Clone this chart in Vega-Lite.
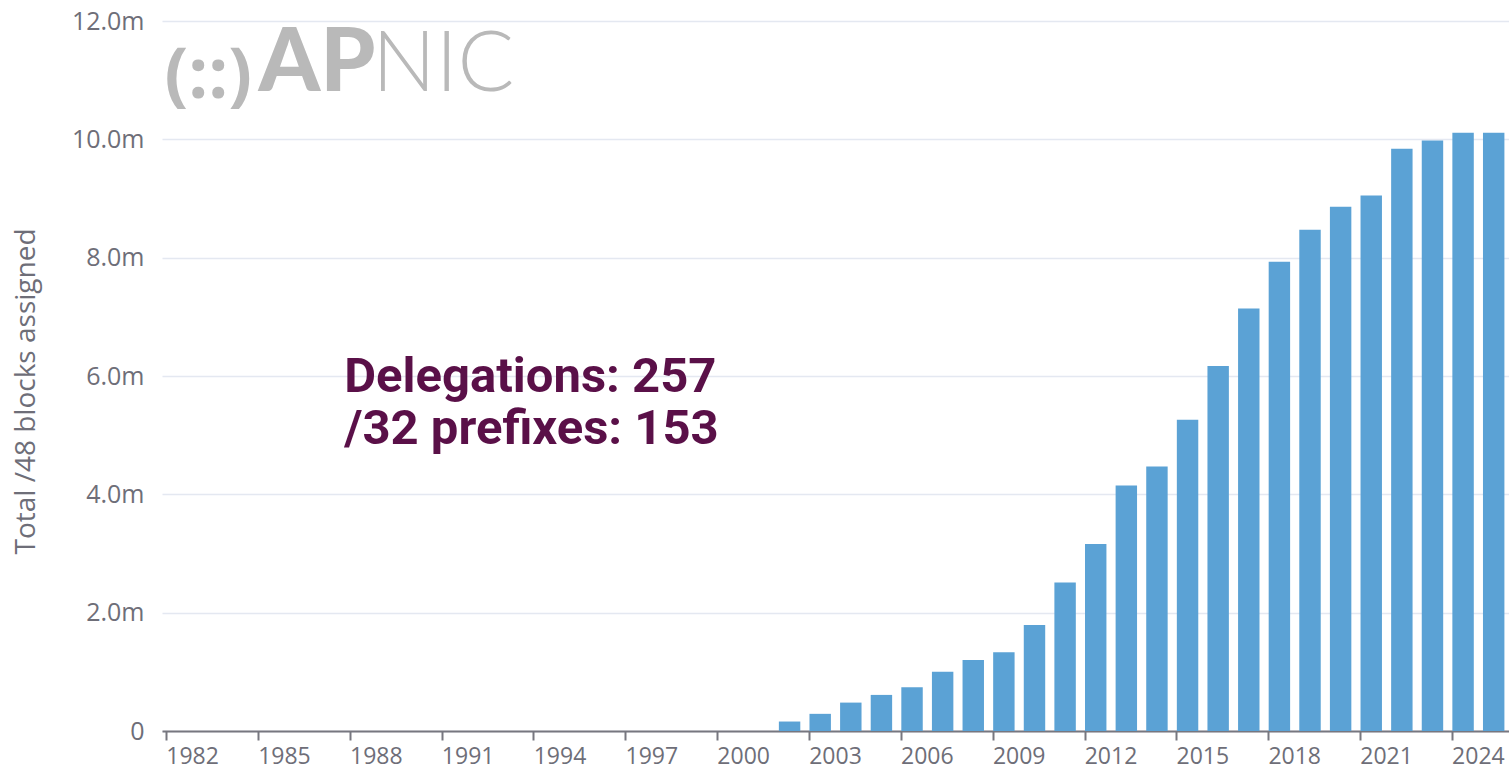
{
  "$schema": "https://vega.github.io/schema/vega-lite/v6.json",
  "autosize": "none",
  "padding": {"left": 162, "top": 21, "right": 0, "bottom": 41},
  "width": 1347,
  "height": 710,
  "background": "white",
  "config": {
    "view": {"stroke": null},
    "font": "Open Sans"
  },
  "layer": [
    {
      "data": {
        "values": [
          {"year": 2002, "value": 160000},
          {"year": 2003, "value": 290000},
          {"year": 2004, "value": 480000},
          {"year": 2005, "value": 610000},
          {"year": 2006, "value": 740000},
          {"year": 2007, "value": 1000000},
          {"year": 2008, "value": 1200000},
          {"year": 2009, "value": 1330000},
          {"year": 2010, "value": 1790000},
          {"year": 2011, "value": 2510000},
          {"year": 2012, "value": 3160000},
          {"year": 2013, "value": 4150000},
          {"year": 2014, "value": 4470000},
          {"year": 2015, "value": 5260000},
          {"year": 2016, "value": 6170000},
          {"year": 2017, "value": 7140000},
          {"year": 2018, "value": 7930000},
          {"year": 2019, "value": 8470000},
          {"year": 2020, "value": 8860000},
          {"year": 2021, "value": 9050000},
          {"year": 2022, "value": 9840000},
          {"year": 2023, "value": 9980000},
          {"year": 2024, "value": 10110000},
          {"year": 2025, "value": 10110000}
        ]
      },
      "mark": {"type": "bar", "color": "#5ba2d5"},
      "encoding": {
        "x": {
          "field": "year",
          "type": "ordinal",
          "title": null,
          "scale": {
            "domain": [1982,1983,1984,1985,1986,1987,1988,1989,1990,1991,1992,1993,1994,1995,1996,1997,1998,1999,2000,2001,2002,2003,2004,2005,2006,2007,2008,2009,2010,2011,2012,2013,2014,2015,2016,2017,2018,2019,2020,2021,2022,2023,2024,2025],
            "paddingInner": 0.3,
            "paddingOuter": 0.15
          },
          "axis": {
            "title": null,
            "values": [1982,1985,1988,1991,1994,1997,2000,2003,2006,2009,2012,2015,2018,2021,2024],
            "bandPosition": 0,
            "labelOffset": 15.3,
            "labelAngle": 0,
            "labelFontSize": 23,
            "labelColor": "#6e6e78",
            "labelPadding": 5,
            "domainColor": "#77777f",
            "domainWidth": 2,
            "tickColor": "#77777f",
            "tickWidth": 2,
            "tickSize": 9,
            "grid": false
          }
        },
        "y": {
          "field": "value",
          "type": "quantitative",
          "title": "Total /48 blocks assigned",
          "scale": {"domain": [0, 12000000], "nice": false},
          "axis": {
            "title": "Total /48 blocks assigned",
            "titleFontSize": 28,
            "titleFontWeight": "normal",
            "titleColor": "#6e6e78",
            "titleAngle": -90,
            "titleAlign": "center",
            "titleBaseline": "middle",
            "titleX": -136,
            "titleY": 370,
            "values": [0, 2000000, 4000000, 6000000, 8000000, 10000000, 12000000],
            "labelExpr": "datum.value == 0 ? '0' : format(datum.value / 1000000, '.1f') + 'm'",
            "labelFontSize": 25,
            "labelColor": "#6e6e78",
            "labelPadding": 18,
            "ticks": false,
            "tickSize": 0,
            "domain": false,
            "grid": true,
            "gridColor": "#e4e8f1",
            "gridWidth": 1.5
          }
        }
      }
    },
    {
      "data": {"values": [{"label": ["Delegations: 257", "/32 prefixes: 153"]}]},
      "mark": {"type": "text", "font": "Roboto", "fontWeight": "bold", "fontSize": 49, "color": "#5a1048", "align": "left", "baseline": "alphabetic", "lineHeight": 52, "dx": -6},
      "encoding": {
        "x": {"datum": 1988, "type": "ordinal", "bandPosition": 0},
        "y": {"datum": 5730000, "type": "quantitative"},
        "text": {"field": "label"}
      }
    },
    {
      "data": {"values": [{"label": "(::)"}]},
      "mark": {"type": "text", "font": "Open Sans", "fontWeight": "bold", "fontSize": 70, "color": "#b9b9b9", "align": "left", "baseline": "alphabetic", "dx": -2},
      "encoding": {
        "x": {"datum": 1982, "type": "ordinal", "bandPosition": 0},
        "y": {"datum": 10700000, "type": "quantitative"},
        "text": {"field": "label"}
      }
    },
    {
      "data": {"values": [{"label": "AP"}]},
      "mark": {"type": "text", "font": "Lato", "fontWeight": 900, "fontSize": 88, "color": "#b9b9b9", "align": "left", "baseline": "alphabetic", "dx": 0},
      "encoding": {
        "x": {"datum": 1985, "type": "ordinal", "bandPosition": 0},
        "y": {"datum": 10820000, "type": "quantitative"},
        "text": {"field": "label"}
      }
    },
    {
      "data": {"values": [{"label": "NIC"}]},
      "mark": {"type": "text", "font": "Lato", "fontWeight": 300, "fontSize": 84, "color": "#b9b9b9", "align": "left", "baseline": "alphabetic", "dx": 22},
      "encoding": {
        "x": {"datum": 1988, "type": "ordinal", "bandPosition": 0},
        "y": {"datum": 10820000, "type": "quantitative"},
        "text": {"field": "label"}
      }
    }
  ]
}
